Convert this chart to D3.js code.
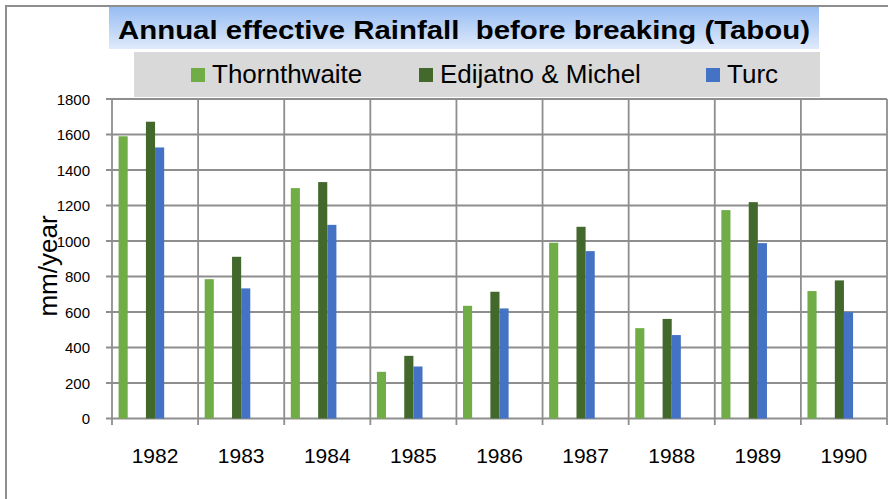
<!DOCTYPE html>
<html><head><meta charset="utf-8">
<script src="https://cdn.jsdelivr.net/npm/d3@7"></script>
<style>body{margin:0;background:#fff}svg{display:block;font-family:"Liberation Sans",Arial,sans-serif}</style>
</head><body><svg id="c" width="888" height="499"></svg>
<script>
const years = ["1982","1983","1984","1985","1986","1987","1988","1989","1990"];
const thornthwaite = [1590, 785, 1298, 263, 635, 990, 509, 1174, 718];
const edijatno = [1672, 911, 1332, 353, 714, 1080, 561, 1219, 778];
const turc = [1527, 733, 1091, 293, 620, 943, 470, 988, 599];
const seriesNames = ["Thornthwaite", "Edijatno & Michel", "Turc"];
const seriesColors = ["#70ad47", "#43682b", "#4472c4"];
const seriesSlots = [0, 3, 4];
const yTicks = [0,200,400,600,800,1000,1200,1400,1600,1800];
const titleText = "Annual effective Rainfall  before breaking (Tabou)";
const yTitle = "mm/year";

const svg = d3.select("#c");
const series = [thornthwaite, edijatno, turc];
const grid = "#8e8e8e";

// outer border
svg.append("rect").attr("x",6).attr("y",6).attr("width",900).attr("height",520)
  .attr("fill","#fff").attr("stroke",grid).attr("stroke-width",2);

// title box
const defs = svg.append("defs");
const lg = defs.append("linearGradient").attr("id","tg").attr("x1",0).attr("y1",0).attr("x2",0).attr("y2",1);
lg.append("stop").attr("offset","0%").attr("stop-color","#97bdf2");
lg.append("stop").attr("offset","100%").attr("stop-color","#e0eafb");
svg.append("rect").attr("x",109).attr("y",7).attr("width",710).attr("height",42).attr("fill","url(#tg)");
svg.append("text").attr("x",118).attr("y",39)
  .style("white-space","pre").attr("xml:space","preserve")
  .attr("textLength",692).attr("lengthAdjust","spacingAndGlyphs")
  .attr("font-size",26.5).attr("font-weight","bold").attr("fill","#000").text(titleText);

// legend box
svg.append("rect").attr("x",134).attr("y",52).attr("width",686).attr("height",45).attr("fill","#d9d9d9");
const legX = [191, 419, 706];
seriesNames.forEach((n,i)=>{
  svg.append("rect").attr("x",legX[i]).attr("y",68).attr("width",14).attr("height",14).attr("fill",seriesColors[i]);
  svg.append("text").attr("x",legX[i]+21).attr("y",83).attr("font-size",26).attr("fill","#000").text(n);
});

// scales
const x0 = d3.scaleBand().domain(years).range([112, 887]).padding(0);
const x1 = d3.scaleBand().domain(d3.range(8)).range([0, x0.bandwidth()]).paddingInner(0).paddingOuter(0.72);
const y = d3.scaleLinear().domain([0,1800]).range([418.5, 99]);

// horizontal gridlines + tick marks
const g = svg.append("g");
yTicks.forEach(t=>{
  g.append("line").attr("x1",106).attr("x2",887).attr("y1",y(t)).attr("y2",y(t))
    .attr("stroke",grid).attr("stroke-width",1.8);
  g.append("text").attr("x",90).attr("y",y(t)+5.5).attr("text-anchor","end")
    .attr("font-size",15).attr("fill","#000").text(t);
});
// vertical gridlines
const bounds = years.map(d=>x0(d)).concat([887]);
bounds.forEach(b=>{
  g.append("line").attr("x1",b).attr("x2",b).attr("y1",y(1800)).attr("y2",425)
    .attr("stroke",grid).attr("stroke-width",1.8);
});

// bars
series.forEach((vals,si)=>{
  svg.append("g").selectAll("rect").data(vals).join("rect")
    .attr("x",(d,i)=>x0(years[i])+x1(seriesSlots[si]))
    .attr("width",x1.bandwidth())
    .attr("y",d=>y(d)).attr("height",d=>y(0)-y(d))
    .attr("fill",seriesColors[si]);
});

// x labels
years.forEach(yr=>{
  svg.append("text").attr("x",x0(yr)+x0.bandwidth()/2).attr("y",463).attr("text-anchor","middle")
    .attr("font-size",21).attr("fill","#000").text(yr);
});

// y title
svg.append("text").attr("transform","translate(57,266) rotate(-90)").attr("text-anchor","middle")
  .attr("font-size",26).attr("fill","#000").text(yTitle);
</script></body></html>
